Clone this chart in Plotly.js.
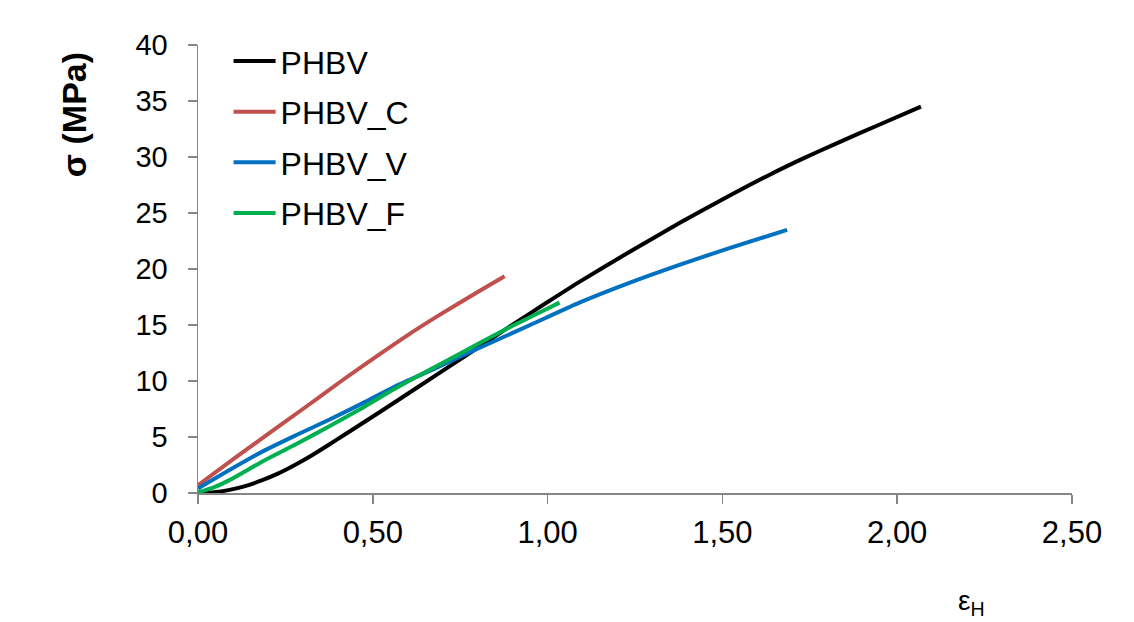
<!DOCTYPE html>
<html>
<head>
<meta charset="utf-8">
<script src="https://cdn.plot.ly/plotly-3.0.1.min.js"></script>
<style>html,body{margin:0;padding:0;background:#fff;}#chart{width:1134px;height:622px;}</style>
</head>
<body>
<div id="chart"></div>
<script>
// Series names
const seriesNames = ["PHBV", "PHBV_C", "PHBV_V", "PHBV_F"];

// PHBV (black)
const phbvX = [0, 0.045, 0.087, 0.135, 0.182, 0.23, 0.277, 0.325, 0.372, 0.42, 0.468, 0.563, 0.68, 0.787, 0.901, 1.0, 1.091, 1.23, 1.377, 1.5, 1.634, 1.73, 1.825, 1.95, 2.068];
const phbvY = [0, 0.07, 0.26, 0.62, 1.12, 1.75, 2.5, 3.35, 4.26, 5.22, 6.18, 8.1, 10.5, 12.7, 15.05, 17.05, 18.85, 21.45, 24.1, 26.2, 28.4, 29.85, 31.2, 32.9, 34.5];

// PHBV_C (red)
const phbvCX = [0, 0.1, 0.182, 0.3, 0.41, 0.52, 0.6, 0.691, 0.8, 0.877];
const phbvCY = [0.7, 3.0, 4.85, 7.5, 10.0, 12.4, 14.1, 15.9, 17.95, 19.35];

// PHBV_V (blue)
const phbvVX = [0, 0.09, 0.182, 0.28, 0.372, 0.47, 0.563, 0.68, 0.787, 0.95, 1.091, 1.23, 1.377, 1.52, 1.685];
const phbvVY = [0.4, 2.05, 3.66, 5.15, 6.5, 8.0, 9.5, 11.15, 12.7, 15.0, 17.0, 18.72, 20.37, 21.87, 23.49];

// PHBV_F (green)
const phbvFX = [0, 0.045, 0.09, 0.182, 0.28, 0.372, 0.47, 0.563, 0.66, 0.75, 0.83, 0.901, 0.97, 1.034];
const phbvFY = [0.05, 0.5, 1.15, 2.77, 4.35, 5.9, 7.6, 9.3, 10.95, 12.45, 13.8, 14.95, 16.0, 17.0];

// Axis ticks
const xTicks = [0, 0.5, 1.0, 1.5, 2.0, 2.5];
const xTickLabels = ["0,00", "0,50", "1,00", "1,50", "2,00", "2,50"];
const yTicks = [0, 5, 10, 15, 20, 25, 30, 35, 40];

const colors = ["#000000", "#C0504D", "#0070C0", "#00B050"];
const xs = [phbvX, phbvCX, phbvVX, phbvFX];
const ys = [phbvY, phbvCY, phbvVY, phbvFY];

const FONT = "Arial, 'Liberation Sans', sans-serif";

const traces = seriesNames.map((name, i) => ({
  x: xs[i], y: ys[i], name: name, type: "scatter", mode: "lines",
  line: {color: colors[i], width: 4, shape: "spline", smoothing: 0.6},
  legendgroup: "g" + i,
  hoverinfo: "skip"
}));

const layout = {
  width: 1134, height: 622,
  margin: {l: 198, r: 62, t: 45, b: 129},
  paper_bgcolor: "#ffffff", plot_bgcolor: "#ffffff",
  font: {family: FONT, color: "#000"},
  showlegend: true,
  legend: {
    x: 0.035, y: 1.025, xanchor: "left", yanchor: "top",
    font: {family: FONT, size: 32, color: "#000"},
    traceorder: "grouped", tracegroupgap: 6,
    itemwidth: 42,
    bgcolor: "rgba(0,0,0,0)", borderwidth: 0
  },
  xaxis: {
    range: [0, 2.5], tickvals: xTicks, ticktext: xTickLabels,
    showline: true, linecolor: "#868686", linewidth: 1.5,
    ticks: "outside", ticklen: 9, tickwidth: 1.5, tickcolor: "#868686",
    showgrid: false, zeroline: false,
    tickfont: {family: FONT, size: 31, color: "#000"},
    ticklabelstandoff: 2
  },
  yaxis: {
    range: [0, 40], tickvals: yTicks,
    showline: true, linecolor: "#868686", linewidth: 1.5,
    ticks: "outside", ticklen: 9, tickwidth: 1.5, tickcolor: "#868686",
    showgrid: false, zeroline: false,
    tickfont: {family: FONT, size: 29, color: "#000"},
    ticklabelstandoff: 14
  },
  annotations: [
    {
      text: "<b>σ (MPa)</b>", xref: "paper", yref: "paper",
      x: -0.141, y: 0.845, xanchor: "center", yanchor: "middle",
      textangle: -90, showarrow: false,
      font: {family: FONT, size: 34, color: "#000"}
    },
    {
      text: "ε<sub>H</sub>", xref: "paper", yref: "paper",
      x: 0.885, y: -0.245, xanchor: "center", yanchor: "middle",
      showarrow: false,
      font: {family: FONT, size: 28, color: "#000"}
    }
  ]
};

Plotly.newPlot("chart", traces, layout, {displayModeBar: false, staticPlot: true});
</script>
</body>
</html>
